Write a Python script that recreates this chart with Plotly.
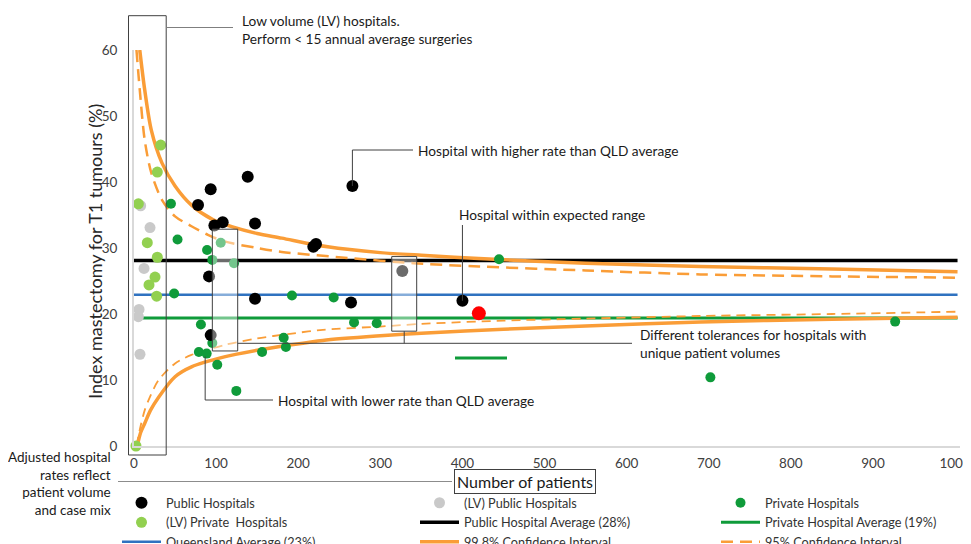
import plotly.graph_objects as go

# ---------------- data ----------------
public_x = [138.5, 93.4, 78, 97.9, 108, 147.4, 91.4, 147.4, 93.4, 266, 218.4, 221.7, 264.3, 400, 326.8]
public_y = [40.8, 38.9, 36.5, 33.4, 33.9, 33.7, 25.7, 22.3, 16.8, 39.4, 30.2, 30.6, 21.75, 22.0, 26.5]

lv_public_x = [8.1, 19.5, 12.2, 6.1, 5.3, 7.3]
lv_public_y = [36.4, 33.1, 26.9, 20.7, 19.6, 13.9]

private_x = [45, 53, 48.9, 89, 95.4, 105.6, 121.8, 81.5, 95.4, 79, 88.5, 101.4, 124.6, 156, 182.3,
             185, 192.4, 243.2, 268, 295.6, 444.6, 927, 702]
private_y = [36.7, 31.3, 23.1, 29.7, 28.2, 30.8, 27.7, 18.4, 15.6, 14.25, 14.0, 12.3, 8.35, 14.25, 16.4,
             15.0, 22.8, 22.5, 18.7, 18.6, 28.3, 18.85, 10.4]

lv_private_x = [32.5, 28.4, 5.3, 16.2, 28.4, 25.6, 18.3, 27.6, 2.4]
lv_private_y = [45.6, 41.5, 36.7, 30.8, 28.6, 25.6, 24.4, 22.7, 0.0]

highlight_x = [420]
highlight_y = [20.1]

PUBLIC_AVG = 28.1
PRIVATE_AVG = 19.4
QLD_AVG = 22.9
AVG_X_END = 1003
PRIVATE_AVG_X_START = 10

ci998_up_x = [7, 13, 21, 34, 50, 70, 96, 120, 150, 180, 220, 260, 300, 350, 420, 550, 690, 850, 1003]
ci998_up_y = [60, 54.0, 47.9, 42.9, 39.4, 36.5, 34.3, 33.2, 32.2, 31.5, 30.5, 29.8, 29.3, 28.9, 28.4, 27.7, 27.2, 26.8, 26.4]
ci998_lo_x = [4, 8, 13, 20, 30, 50, 70, 110, 150, 190, 230, 300, 350, 450, 550, 690, 850, 1003]
ci998_lo_y = [0, 2.0, 3.4, 5.4, 7.4, 10.5, 12.0, 13.5, 14.5, 15.3, 16.0, 16.7, 17.1, 17.7, 18.2, 18.8, 19.2, 19.5]

ci95_up_x = [3, 7, 13, 21, 34, 50, 70, 90, 110, 150, 180, 260, 340, 420, 550, 690, 850, 1003]
ci95_up_y = [60, 54.0, 46.4, 41.4, 37.3, 34.8, 33.3, 32.0, 31.0, 30.0, 29.4, 28.5, 27.7, 27.2, 26.6, 26.0, 25.7, 25.5]
ci95_lo_x = [3, 8, 13, 20, 30, 50, 70, 110, 150, 190, 230, 300, 350, 450, 550, 690, 850, 1003]
ci95_lo_y = [0, 3.0, 5.4, 7.6, 10.0, 12.5, 13.8, 15.3, 16.3, 17.0, 17.6, 18.1, 18.5, 19.0, 19.3, 19.7, 20.0, 20.35]

x_ticks = [0, 100, 200, 300, 400, 500, 600, 700, 800, 900, 1000]
y_ticks = [0, 10, 20, 30, 40, 50, 60]

# ---------------- geometry ----------------
# The page body adds an 8px offset, so the figure is 8px smaller than the window.
OFF = 8
W, H = 971 - OFF, 544 - OFF
ML_S, MT_S, PW, PH = 134, 50, 826, 396   # plot area in screen pixels
XMAX, YMAX = 1006, 60

def fx(px):  # screen pixel -> paper x
    return (px - ML_S) / PW

def fy(py):  # screen pixel -> paper y
    return (MT_S + PH - py) / PH

def dx(v):  # data -> screen pixel x
    return ML_S + v / XMAX * PW

def dy(v):  # data -> screen pixel y
    return MT_S + PH * (1 - v / YMAX)

FONT = "Lato"
ORANGE = "#fa9d37"
GREEN = "#0f9b3a"
LVGREEN = "#92d050"
GRAY = "#c9c9c9"
BLUE = "#2f72c0"
TXT = "#1a1a1a"
ANN_SIZE = 13.7

fig = go.Figure()

# average lines
fig.add_trace(go.Scatter(x=[0, AVG_X_END], y=[PUBLIC_AVG, PUBLIC_AVG], mode="lines",
                         line=dict(color="black", width=3.5), name="Public Hospital Average (28%)",
                         legend="legend2", legendrank=2))
fig.add_trace(go.Scatter(x=[PRIVATE_AVG_X_START, AVG_X_END], y=[PRIVATE_AVG, PRIVATE_AVG], mode="lines",
                         line=dict(color=GREEN, width=3), name="Private Hospital Average (19%)",
                         legend="legend3", legendrank=2))
fig.add_trace(go.Scatter(x=[0, AVG_X_END], y=[QLD_AVG, QLD_AVG], mode="lines",
                         line=dict(color=BLUE, width=2.5), name="Queensland Average (23%)",
                         legend="legend", legendrank=3))

# confidence intervals
fig.add_trace(go.Scatter(x=ci998_up_x + [None] + ci998_lo_x, y=ci998_up_y + [None] + ci998_lo_y,
                         mode="lines", line=dict(color=ORANGE, width=3.5, shape="spline", smoothing=0.8),
                         name="99.8% Confidence Interval", legend="legend2", legendrank=3))
fig.add_trace(go.Scatter(x=ci95_up_x, y=ci95_up_y, mode="lines",
                         line=dict(color=ORANGE, width=2.5, dash="12px,7px", shape="spline", smoothing=0.8),
                         name="95% Confidence Interval", legend="legend3", legendrank=3,
                         legendgroup="ci95"))
fig.add_trace(go.Scatter(x=ci95_lo_x, y=ci95_lo_y, mode="lines",
                         line=dict(color=ORANGE, width=1.8, dash="9px,6px", shape="spline", smoothing=0.8),
                         showlegend=False, legendgroup="ci95", legend="legend3"))

# points
fig.add_trace(go.Scatter(x=lv_public_x, y=lv_public_y, mode="markers", cliponaxis=False,
                         marker=dict(color=GRAY, size=11), name="(LV) Public Hospitals",
                         legend="legend2", legendrank=1))
fig.add_trace(go.Scatter(x=lv_private_x, y=lv_private_y, mode="markers", cliponaxis=False,
                         marker=dict(color=LVGREEN, size=11), name="(LV) Private  Hospitals",
                         legend="legend", legendrank=2))
fig.add_trace(go.Scatter(x=private_x, y=private_y, mode="markers", cliponaxis=False,
                         marker=dict(color=GREEN, size=10), name="Private Hospitals",
                         legend="legend3", legendrank=1))
fig.add_trace(go.Scatter(x=public_x, y=public_y, mode="markers", cliponaxis=False,
                         marker=dict(color="black", size=12), name="Public Hospitals",
                         legend="legend", legendrank=1))
fig.add_trace(go.Scatter(x=highlight_x, y=highlight_y, mode="markers", cliponaxis=False,
                         marker=dict(color="#ff0000", size=14), showlegend=False))

# ---------------- shapes ----------------
shapes = []
for (x0, x1, y0, y1) in [(95.4, 126.3, 14.4, 32.85), (313.9, 344.3, 17.4, 28.7)]:
    shapes.append(dict(type="rect", xref="x", yref="y", x0=x0, x1=x1, y0=y0, y1=y1,
                       fillcolor="rgba(255,255,255,0.42)", line=dict(color="#404040", width=1),
                       layer="above"))
shapes.append(dict(type="rect", xref="paper", yref="paper", x0=fx(128.5), x1=fx(166.2),
                   y0=fy(455), y1=fy(15.7), line=dict(color="#404040", width=1),
                   fillcolor="rgba(0,0,0,0)", layer="above"))

def path(points, color="#404040", width=1):
    d = "M " + " L ".join(f"{fx(px)},{fy(py)}" for px, py in points)
    return dict(type="path", xref="paper", yref="paper", path=d,
                line=dict(color=color, width=width), layer="above")

shapes.append(path([(166.2, 27.5), (233, 27.5)], color="#7f7f7f"))
hx, hy = dx(public_x[9]), dy(public_y[9])
shapes.append(path([(hx, hy), (hx, 150), (413, 150)]))
wx, wy = dx(public_x[13]), dy(public_y[13])
shapes.append(path([(wx, wy), (wx, 225)]))
lx, ly = dx(private_x[10]) - 1.5, dy(private_y[10])
shapes.append(path([(lx, ly + 3), (lx, 400), (273, 400)]))
b2x = dx((313.9 + 344.3) / 2)
shapes.append(path([(dx(126.3), 343.3), (632, 343.3)]))
shapes.append(path([(b2x, dy(17.4)), (b2x, 343.3)]))
shapes.append(path([(455, 358), (507, 358)], color=GREEN, width=3))
shapes.append(path([(118, 481.5), (452, 481.5)], color="#8c8c8c"))

# ---------------- annotations ----------------
ann = []
def text(px, py, s, size=ANN_SIZE, xanchor="left", yanchor="middle", align="left", color=TXT, **kw):
    ann.append(dict(x=fx(px), y=fy(py), xref="paper", yref="paper", text=s, showarrow=False,
                    xanchor=xanchor, yanchor=yanchor, align=align,
                    font=dict(family=FONT, size=size, color=color), **kw))

text(240, 29, "Low volume (LV) hospitals.<br>Perform &lt; 15 annual average surgeries")
text(416, 150, "Hospital with higher rate than QLD average")
text(457, 215, "Hospital within expected range")
text(276, 400, "Hospital with lower rate than QLD average")
text(638, 343.5, "Different tolerances for hospitals with<br>unique patient volumes")
text(113, 447, "Adjusted hospital<br>rates reflect<br>patient volume<br>and case mix",
     size=13.5, xanchor="right", yanchor="top", align="right")
text(525, 481, "Number of patients", size=16, xanchor="center",
     bordercolor="#404040", borderwidth=1, borderpad=2, bgcolor="white")
text(95, 252, "Index mastectomy for T1 tumours (%)", size=18, xanchor="center", textangle=-90,
     color="#262626")

legend_common = dict(orientation="v", xanchor="left", yanchor="top", bgcolor="rgba(0,0,0,0)",
                     font=dict(family=FONT, size=12.7, color="#333333"), traceorder="normal",
                     itemwidth=39, tracegroupgap=0)

fig.update_layout(
    width=W, height=H, template="none",
    paper_bgcolor="white", plot_bgcolor="white",
    margin=dict(l=ML_S - OFF, r=W - (ML_S - OFF) - PW, t=MT_S - OFF, b=H - (MT_S - OFF) - PH,
                autoexpand=False),
    font=dict(family=FONT, size=13, color="#404040"),
    xaxis=dict(range=[0, XMAX], tickvals=x_ticks, showgrid=False, zeroline=False,
               showline=True, linecolor="#d9d9d9", linewidth=2, ticks="",
               tickfont=dict(family=FONT, size=13.5, color="#404040"), ticklabelstandoff=4),
    yaxis=dict(range=[0, YMAX], tickvals=y_ticks, showgrid=False, zeroline=False,
               showline=True, linecolor="#d9d9d9", linewidth=2, ticks="",
               tickfont=dict(family=FONT, size=13.5, color="#404040"), ticklabelstandoff=12),
    legend=dict(x=fx(117), y=fy(488), **legend_common),
    legend2=dict(x=fx(415), y=fy(488), **legend_common),
    legend3=dict(x=fx(716), y=fy(488), **legend_common),
    shapes=shapes, annotations=ann, showlegend=True,
)

fig.write_html("out.html")
